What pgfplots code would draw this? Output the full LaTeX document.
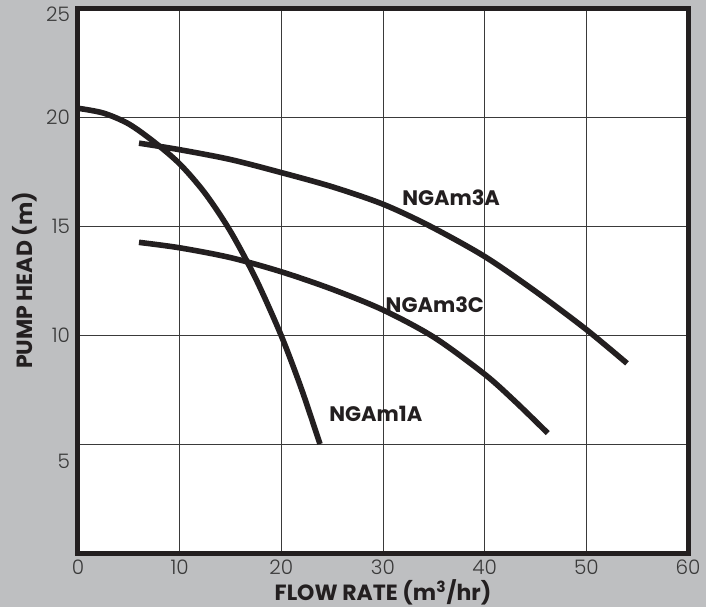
\documentclass[border=0pt]{standalone}
\usepackage{pgfplots}
\pgfplotsset{compat=1.18}
\usepackage{fontspec}
\setmainfont{Poppins}
\newfontfamily\tickfont{Poppins Light}
\definecolor{bggray}{HTML}{BEBFC1}
\definecolor{ink}{HTML}{231F20}
\definecolor{gridc}{HTML}{3A3A3A}

\begin{document}
\begin{tikzpicture}
\fill[bggray] (-39pt,-27pt) rectangle (314pt,276.5pt);
\begin{axis}[
  at={(0,0)}, anchor=south west,
  scale only axis,
  width=305pt, height=272.5pt,
  xmin=0, xmax=60, ymin=0, ymax=25,
  xtick={0,10,...,60},
  ytick={5,10,15,20,25},
  yticklabels={\raisebox{-8.5pt}{5},10,15,20,\raisebox{-3pt}{25}},
  major tick length=0pt,
  xmajorgrids=true, ymajorgrids=true,
  grid style={line width=0.5pt, color=gridc},
  axis line style={line width=2.5pt, color=ink},
  axis background/.style={fill=white},
  /pgf/number format/assume math mode=true,
  tick label style={font=\tickfont\fontsize{10}{12}\selectfont, color=gridc},
  xticklabel style={anchor=base, yshift=-10.5pt},
  yticklabel style={anchor=base east, yshift=-3.6pt, xshift=-0.5pt},
  xlabel={\bfseries FLOW RATE (m\textsuperscript{3}/hr)},
  ylabel={\bfseries PUMP HEAD (m)},
  label style={font=\fontsize{11}{13}\selectfont, color=ink},
  xlabel style={at={(rel axis cs:0.5,0)}, anchor=base, yshift=-23.5pt},
  ylabel style={at={(rel axis cs:0,0.5)}, anchor=base, yshift=22.5pt},
  clip=false,
]
% NGAm1A
\addplot[ink, line width=2.8pt, smooth, no markers] coordinates {
  (0,20.4) (2.5,20.18) (5,19.68) (7.5,18.85) (10,17.85) (12.5,16.5)
  (15,14.75) (17.5,12.57) (20,9.96) (22,7.5) (23.8,5.0)
};
% NGAm3A
\addplot[ink, line width=2.8pt, smooth, no markers] coordinates {
  (6,18.8) (10,18.5) (15,18.05) (20,17.45) (25,16.8) (30,16.0)
  (34.6,15.0) (40,13.6) (45,12.0) (50,10.25) (54,8.7)
};
% NGAm3C
\addplot[ink, line width=2.8pt, smooth, no markers] coordinates {
  (6,14.25) (10,14.0) (15,13.55) (20,12.9) (25,12.1) (30,11.15)
  (35,9.9) (40,8.2) (43,6.95) (46.2,5.5)
};
\node[font=\bfseries\fontsize{10.5}{12}\selectfont, color=ink] at (axis cs:36.7,16.3) {NGAm3A};
\node[font=\bfseries\fontsize{10.5}{12}\selectfont, color=ink] at (axis cs:35.1,11.4) {NGAm3C};
\node[font=\bfseries\fontsize{10.5}{12}\selectfont, color=ink] at (axis cs:29.3,6.4) {NGAm1A};
\end{axis}
\pgfresetboundingbox
\path[use as bounding box] (-39pt,-27pt) rectangle (314pt,276.5pt);
\end{tikzpicture}
\end{document}
